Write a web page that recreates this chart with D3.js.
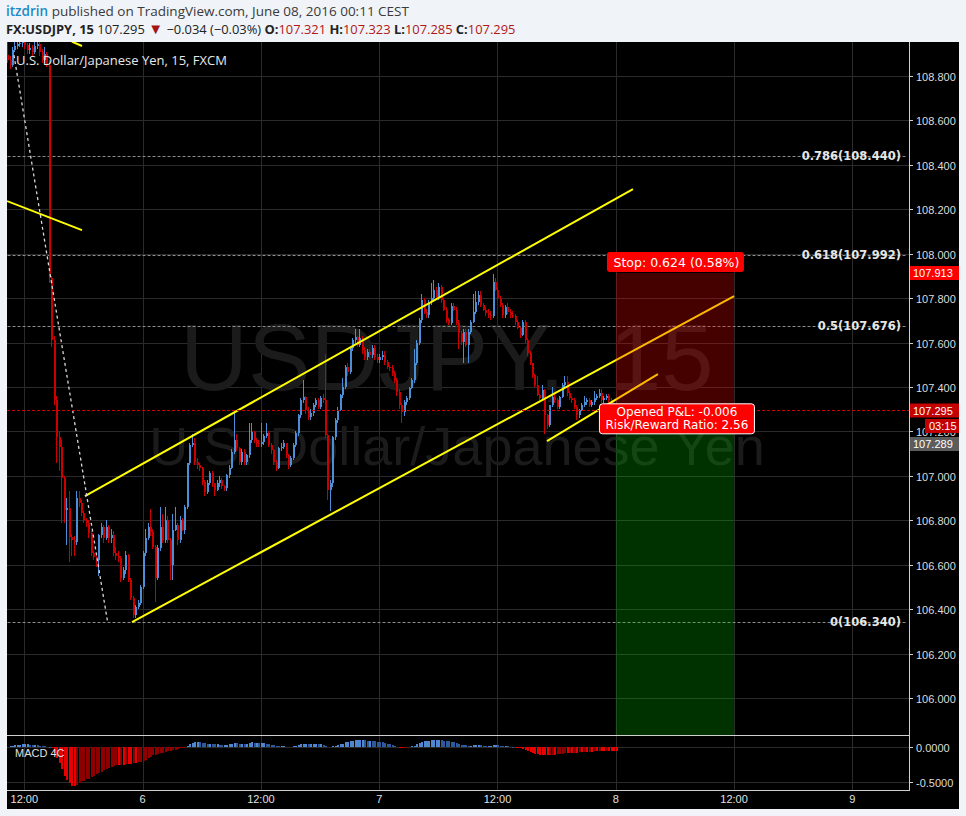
<!DOCTYPE html>
<html><head><meta charset="utf-8">
<script src="https://cdn.jsdelivr.net/npm/d3@7"></script>
<style>
html,body{margin:0;padding:0;background:#f0f3f7;}
svg{display:block;}
</style></head><body>
<svg id="c" width="966" height="816"></svg>
<script>
// ---------- DATA ----------
const symbolTitle = "U.S. Dollar/Japanese Yen, 15, FXCM";
const watermark1 = "USDJPY, 15";
const watermark2 = "U.S. Dollar/Japanese Yen";
const firstIndex = -7;          // bar index of first candle (0 = 12:00 label)
const firstOpen = 108.894;
const closes = [
108.872,108.849,108.917,108.935,108.944,108.948,108.953,108.939,108.917,108.926,108.908,108.935,108.944,108.908,108.872,108.899,108.849,
107.890,107.611,107.341,107.174,107.129,106.990,106.846,106.855,106.724,106.711,
106.702,106.900,106.877,106.832,106.801,106.787,106.742,106.652,106.634,106.621,
106.733,106.769,106.720,106.769,106.720,106.733,106.652,106.639,106.630,106.540,
106.576,106.643,106.531,106.450,106.373,106.409,106.427,106.499,106.652,106.720,
106.769,106.747,106.679,106.540,106.675,106.769,106.711,106.801,106.711,106.598,
106.756,106.778,106.711,106.801,106.756,106.859,107.057,107.138,107.147,107.062,
107.048,107.035,106.972,106.927,106.967,107.012,106.967,106.936,106.967,106.981,
106.954,106.945,107.003,107.035,107.107,107.161,107.125,107.062,107.107,107.062,
107.093,107.161,107.197,107.161,107.147,107.143,107.152,107.179,107.192,107.138,
107.116,107.062,107.035,107.125,107.129,107.147,107.093,107.048,107.080,107.138,
107.192,107.273,107.341,107.355,107.296,107.264,107.282,107.319,107.341,107.310,
107.350,107.341,107.183,106.936,106.967,107.174,107.251,107.296,107.364,107.400,
107.490,107.467,107.575,107.611,107.625,107.589,107.620,107.566,107.535,107.557,
107.544,107.575,107.535,107.521,107.535,107.544,107.512,107.490,107.485,107.463,
107.431,107.377,107.319,107.287,107.332,107.350,107.395,107.431,107.508,107.598,
107.701,107.791,107.737,107.724,107.782,107.800,107.836,107.800,107.850,107.791,
107.746,107.701,107.688,107.764,107.746,107.688,107.643,107.602,107.647,107.589,
107.647,107.692,107.737,107.782,107.814,107.769,107.746,107.733,107.724,107.719,
107.872,107.836,107.800,107.769,107.724,107.760,107.737,107.724,107.719,107.692,
107.665,107.634,107.692,107.611,107.553,107.508,107.454,107.409,107.364,107.350,
107.386,107.273,107.228,107.319,107.355,107.341,107.310,107.355,107.409,107.422,
107.373,107.350,107.341,107.310,107.273,107.296,107.319,107.332,107.341,107.319,
107.332,107.350,107.359,107.373,107.341,107.350,107.359,107.341,107.328,107.321,
107.295];
const highs = [
108.96,108.89,108.93,108.96,108.97,108.98,108.99,108.97,108.95,108.95,108.94,108.96,108.98,108.96,108.92,108.93,108.91,
108.87,107.90,107.63,107.36,107.20,107.16,107.00,106.90,106.93,106.74,
106.73,106.93,106.93,106.89,106.84,106.81,106.80,106.75,106.66,106.64,
106.74,106.79,106.78,106.80,106.78,106.76,106.75,106.68,106.66,106.64,
106.59,106.66,106.65,106.54,106.46,106.42,106.44,106.51,106.66,106.76,
106.79,106.85,106.76,106.69,106.69,106.86,106.83,106.86,106.82,106.72,
106.83,106.86,106.79,106.82,106.81,106.87,107.06,107.15,107.19,107.17,
107.08,107.06,107.04,106.98,106.98,107.02,107.02,106.97,106.98,107.00,
106.99,106.96,107.01,107.05,107.12,107.29,107.19,107.13,107.12,107.12,
107.10,107.24,107.24,107.20,107.17,107.16,107.24,107.19,107.24,107.20,
107.15,107.12,107.07,107.13,107.15,107.16,107.15,107.10,107.09,107.15,
107.20,107.28,107.35,107.43,107.36,107.31,107.30,107.33,107.35,107.35,
107.36,107.37,107.55,107.19,106.98,107.18,107.26,107.31,107.37,107.44,
107.50,107.51,107.58,107.62,107.66,107.63,107.66,107.63,107.58,107.57,
107.57,107.59,107.59,107.55,107.55,107.56,107.56,107.52,107.50,107.50,
107.47,107.44,107.39,107.33,107.34,107.36,107.40,107.44,107.57,107.61,
107.71,107.82,107.80,107.75,107.79,107.87,107.88,107.85,107.87,107.86,
107.80,107.76,107.71,107.78,107.78,107.76,107.70,107.65,107.66,107.66,
107.66,107.70,107.82,107.83,107.83,107.83,107.78,107.76,107.75,107.74,
107.91,107.89,107.85,107.81,107.78,107.77,107.78,107.75,107.74,107.73,
107.70,107.67,107.70,107.70,107.62,107.56,107.51,107.46,107.45,107.37,
107.41,107.39,107.28,107.32,107.40,107.37,107.35,107.36,107.42,107.45,
107.45,107.38,107.36,107.35,107.32,107.30,107.33,107.36,107.35,107.35,
107.34,107.38,107.37,107.39,107.39,107.36,107.37,107.37,107.35,107.34,
107.323];
const lows = [
108.86,108.83,108.84,108.91,108.92,108.93,108.93,108.92,108.90,108.90,108.89,108.90,108.92,108.89,108.86,108.86,108.84,
107.87,107.58,107.32,107.06,107.02,106.79,106.79,106.69,106.61,106.64,
106.64,106.69,106.86,106.82,106.79,106.77,106.72,106.64,106.62,106.59,
106.55,106.72,106.70,106.71,106.70,106.70,106.64,106.62,106.61,106.52,
106.53,106.56,106.52,106.44,106.36,106.36,106.40,106.42,106.49,106.64,
106.71,106.73,106.67,106.43,106.53,106.66,106.70,106.70,106.70,106.53,
106.53,106.75,106.69,106.70,106.75,106.74,106.85,107.05,107.13,107.05,
107.03,107.02,106.96,106.91,106.92,106.96,106.95,106.91,106.93,106.95,
106.94,106.93,106.93,106.99,107.03,107.10,107.11,107.05,107.05,107.05,
107.05,107.08,107.15,107.15,107.13,107.13,107.13,107.14,107.17,107.13,
107.10,107.05,107.02,107.03,107.11,107.12,107.08,107.03,107.04,107.07,
107.13,107.18,107.26,107.33,107.28,107.25,107.25,107.27,107.31,107.30,
107.30,107.33,107.17,106.89,106.84,106.95,107.16,107.24,107.29,107.35,
107.39,107.45,107.46,107.56,107.60,107.58,107.58,107.55,107.52,107.52,
107.53,107.53,107.52,107.51,107.51,107.52,107.50,107.48,107.47,107.45,
107.42,107.36,107.30,107.24,107.27,107.32,107.34,107.39,107.42,107.50,
107.59,107.69,107.73,107.71,107.71,107.77,107.79,107.79,107.79,107.78,
107.74,107.69,107.68,107.68,107.74,107.68,107.57,107.59,107.51,107.58,
107.51,107.64,107.69,107.73,107.77,107.76,107.74,107.72,107.71,107.70,
107.71,107.83,107.79,107.76,107.71,107.71,107.73,107.71,107.71,107.68,
107.66,107.62,107.63,107.60,107.54,107.50,107.44,107.40,107.36,107.34,
107.34,107.19,107.21,107.22,107.31,107.33,107.30,107.30,107.35,107.40,
107.36,107.34,107.33,107.30,107.25,107.26,107.29,107.31,107.32,107.31,
107.31,107.32,107.34,107.35,107.33,107.33,107.34,107.33,107.32,107.31,
107.285];
const macdHist = [
0.005,0.01,0.02,0.025,0.03,0.035,0.04,0.04,0.04,0.035,0.03,0.03,0.025,0.02,0.015,0.01,0.005,
0.0,-0.02,-0.08,-0.15,-0.23,-0.32,-0.41,-0.47,-0.52,-0.55,
-0.56,-0.54,-0.51,-0.49,-0.48,-0.46,-0.45,-0.43,-0.41,-0.39,
-0.37,-0.35,-0.33,-0.32,-0.30,-0.29,-0.27,-0.26,-0.26,-0.25,
-0.25,-0.24,-0.24,-0.24,-0.23,-0.23,-0.22,-0.21,-0.20,-0.18,
-0.16,-0.14,-0.12,-0.11,-0.10,-0.09,-0.08,-0.07,-0.06,-0.05,
-0.045,-0.04,-0.03,-0.02,-0.015,-0.005,0.01,0.04,0.06,0.07,
0.07,0.065,0.06,0.055,0.05,0.05,0.045,0.04,0.04,0.035,
0.03,0.03,0.035,0.04,0.05,0.06,0.055,0.05,0.05,0.045,
0.05,0.06,0.065,0.06,0.06,0.055,0.055,0.055,0.05,0.045,
0.035,0.025,0.015,0.01,0.01,0.01,0.005,0.005,0.005,0.01,
0.02,0.03,0.04,0.045,0.045,0.04,0.04,0.045,0.045,0.04,
0.04,0.035,0.02,0.005,0.003,0.01,0.02,0.03,0.04,0.05,
0.065,0.07,0.08,0.09,0.095,0.1,0.1,0.1,0.095,0.09,
0.09,0.085,0.08,0.075,0.07,0.065,0.06,0.05,0.04,0.03,
0.02,0.005,-0.01,-0.02,-0.015,-0.01,0.005,0.01,0.02,0.04,
0.06,0.075,0.08,0.085,0.09,0.095,0.1,0.1,0.1,0.095,
0.09,0.085,0.08,0.075,0.065,0.055,0.045,0.035,0.03,0.025,
0.02,0.02,0.025,0.03,0.03,0.025,0.02,0.015,0.015,0.015,
0.025,0.03,0.025,0.02,0.015,0.015,0.01,0.005,0.0,-0.005,
-0.01,-0.02,-0.03,-0.04,-0.055,-0.07,-0.085,-0.095,-0.105,-0.11,
-0.115,-0.12,-0.12,-0.115,-0.11,-0.11,-0.105,-0.1,-0.095,-0.09,
-0.09,-0.085,-0.085,-0.08,-0.08,-0.075,-0.075,-0.07,-0.07,-0.065,
-0.065,-0.06,-0.06,-0.055,-0.055,-0.055,-0.05,-0.05,-0.05,-0.05,
-0.05];
const timeTickIndex = [0,48,96,144,192,240,288,336];
const timeTickLabels = ["12:00","6","12:00","7","12:00","8","12:00","9"];
const priceTicks = [106.0,106.2,106.4,106.6,106.8,107.0,107.2,107.4,107.6,107.8,108.0,108.2,108.4,108.6,108.8];
const macdTicks = [0,-0.5];
const fibRatios = ["0.786","0.618","0.5","0"];
const fibPrices = [108.440,107.992,107.676,106.340];
const fibStartIndex = -6.8;
// drawings: [index1, price1, index2, price2]
const yellowLines = [
  [24.6,106.909,246.97,108.291],   // channel upper
  [43.7,106.342,288.0,107.809],    // channel lower
  [212.1,107.156,257.1,107.458],   // short channel
  [-7.0,108.237,23.4,108.106],     // top-left segment
  [19.3,108.955,23.4,108.935]      // top clipped segment
];
const dottedLine = [-4.2,108.894,33.8,106.342];
const position = {startIndex:240, endIndex:288, stop:107.913, entry:107.295, target:105.698};
const stopLabel = "Stop: 0.624 (0.58%)";
const pnlLines = ["Opened P&L: -0.006","Risk/Reward Ratio: 2.56"];
const lastPrice = 107.295, bidPrice = 107.289, stopPrice = 107.913;
const countdown = "03:15";

// ---------- LAYOUT ----------
const svg = d3.select('#c');
const paneL=7, paneR=909, paneT=42, paneB=735, macdB=790, chartB=809, axisR=959;
const x = d3.scaleLinear().domain([0,336]).range([24.3,852.4]);
const y = d3.scaleLinear().domain([106,108.8]).range([698,76]);
const ym = d3.scaleLinear().domain([-0.5,0]).range([782,747]);
const BLUE="#4a8fd8", RED="#cc0000";

// header
const hdr = svg.append('text').attr('x',6).attr('y',16).style('font-family','"Open Sans",sans-serif').style('font-size','13.5px');
hdr.append('tspan').attr('fill','#1f8ac6').attr('font-weight','600').text('itzdrin');
hdr.append('tspan').attr('fill','#3a3a3a').text(' published on TradingView.com, June 08, 2016 00:11 CEST');
const h2 = svg.append('text').attr('x',6).attr('y',34).style('font-family','"Open Sans",sans-serif').style('font-size','12.9px').attr('fill','#222');
h2.append('tspan').attr('font-weight','700').text('FX:USDJPY, 15');
h2.append('tspan').text(' 107.295 ');
h2.append('tspan').attr('fill','#a31515').style('font-size','15px').text('▼');
h2.append('tspan').text(' −0.034 (−0.03%) ');
[["O:","107.321"],["H:","107.323"],["L:","107.285"],["C:","107.295"]].forEach((p,i)=>{
  h2.append('tspan').attr('font-weight','700').text((i?' ':'')+p[0]);
  h2.append('tspan').attr('fill','#b01818').text(p[1]);
});

// black chart area
svg.append('rect').attr('x',paneL).attr('y',paneT).attr('width',axisR-paneL).attr('height',chartB-paneT).attr('fill','#000');

const defs = svg.append('defs');
defs.append('clipPath').attr('id','mainClip').append('rect').attr('x',paneL).attr('y',paneT).attr('width',paneR-paneL).attr('height',paneB-paneT);
defs.append('clipPath').attr('id','macdClip').append('rect').attr('x',paneL).attr('y',paneB+1).attr('width',paneR-paneL).attr('height',macdB-paneB-1);

// grid
const grid = svg.append('g').attr('shape-rendering','crispEdges');
grid.selectAll('.vg').data(timeTickIndex).join('line')
  .attr('x1',d=>Math.round(x(d))+0.5).attr('x2',d=>Math.round(x(d))+0.5)
  .attr('y1',paneT).attr('y2',macdB).attr('stroke','#2b2b2b');
grid.selectAll('.hg').data(priceTicks).join('line')
  .attr('x1',paneL).attr('x2',paneR).attr('y1',d=>Math.round(y(d))+0.5).attr('y2',d=>Math.round(y(d))+0.5).attr('stroke','#2b2b2b');
grid.selectAll('.mg').data(macdTicks).join('line')
  .attr('x1',paneL).attr('x2',paneR).attr('y1',d=>Math.round(ym(d))+0.5).attr('y2',d=>Math.round(ym(d))+0.5).attr('stroke','#2b2b2b');

const main = svg.append('g').attr('clip-path','url(#mainClip)');

// watermark
main.append('text').attr('x',180).attr('y',390)
  .style('font-family','"Liberation Sans",Arial,sans-serif').style('font-size','94px').style('word-spacing','18px')
  .attr('fill','#1b1b1b').text(watermark1);
main.append('text').attr('x',457).attr('y',465).attr('text-anchor','middle')
  .style('font-family','"Liberation Sans",Arial,sans-serif').style('font-size','54px').attr('fill','#1b1b1b').text(watermark2);

// fib levels
const fibG = main.append('g');
fibPrices.forEach((p,i)=>{
  fibG.append('line').attr('x1',x(fibStartIndex)).attr('x2',paneR-2).attr('y1',Math.round(y(p))+0.5).attr('y2',Math.round(y(p))+0.5)
    .attr('stroke','#8c8c8c').attr('stroke-dasharray','3,2');
});

// candles
const bars = closes.map((c,k)=>({i:firstIndex+k, o:k?closes[k-1]:firstOpen, h:highs[k], l:lows[k], c}));
const cg = main.append('g').attr('shape-rendering','crispEdges');
bars.forEach(b=>{
  const col = b.c>=b.o ? BLUE : RED;
  const xc = Math.round(x(b.i));
  cg.append('rect').attr('x',xc).attr('width',1).attr('y',y(b.h)).attr('height',Math.max(1,y(b.l)-y(b.h))).attr('fill',col);
  const top = y(Math.max(b.o,b.c)), bot = y(Math.min(b.o,b.c));
  cg.append('rect').attr('x',xc-0.5).attr('width',2).attr('y',top).attr('height',Math.max(1,bot-top)).attr('fill',col);
});

// trend lines
main.selectAll('.yl').data(yellowLines).join('line')
  .attr('x1',d=>x(d[0])).attr('y1',d=>y(d[1])).attr('x2',d=>x(d[2])).attr('y2',d=>y(d[3]))
  .attr('stroke','#ffff00').attr('stroke-width',2);
main.append('line').attr('x1',x(dottedLine[0])).attr('y1',y(dottedLine[1])).attr('x2',x(dottedLine[2])).attr('y2',y(dottedLine[3]))
  .attr('stroke','#d8d8d8').attr('stroke-width',1.3).attr('stroke-dasharray','3,3');

// last price line
main.append('line').attr('x1',paneL).attr('x2',paneR).attr('y1',Math.round(y(lastPrice))+0.5).attr('y2',Math.round(y(lastPrice))+0.5)
  .attr('stroke','#d00000').attr('stroke-dasharray','3,2');

// position boxes (semi-transparent over drawings)
const px1 = x(position.startIndex), px2 = x(position.endIndex);
main.append('rect').attr('x',px1).attr('width',px2-px1).attr('y',y(position.stop)).attr('height',y(position.entry)-y(position.stop))
  .attr('fill','rgba(255,0,0,0.27)');
main.append('rect').attr('x',px1).attr('width',px2-px1).attr('y',y(position.entry)).attr('height',y(position.target)-y(position.entry))
  .attr('fill','rgba(0,200,0,0.25)');

// fib labels
fibPrices.forEach((p,i)=>{
  const t = fibRatios[i]+'('+p.toFixed(3)+')';
  main.append('text').attr('x',paneR-8).attr('y',y(p)+4).attr('text-anchor','end')
    .style('font-family','"DejaVu Sans",sans-serif').style('font-size','11.5px').attr('font-weight','bold').attr('fill','#e6e6e6').text(t);
});

// symbol title
main.append('text').attr('x',16).attr('y',65).style('font-family','"Open Sans",sans-serif').style('font-size','13px')
  .attr('fill','#e8e8e8').text(symbolTitle);

// stop label
const cx = (px1+px2)/2;
main.append('rect').attr('x',cx-68).attr('y',y(position.stop)-21).attr('width',137).attr('height',20).attr('rx',3).attr('fill','#ff0000');
main.append('text').attr('x',cx+1.5).attr('y',y(position.stop)-6.5).attr('text-anchor','middle')
  .style('font-family','"DejaVu Sans",sans-serif').style('font-size','12.5px').attr('fill','#fff').text(stopLabel);
// pnl label
main.append('rect').attr('x',cx-75.5).attr('y',y(position.entry)-6.5).attr('width',155).attr('height',30).attr('rx',3)
  .attr('fill','#ff0000').attr('stroke','#fff').attr('stroke-width',1);
pnlLines.forEach((t,k)=>{
  main.append('text').attr('x',cx+2).attr('y',y(position.entry)+5.5+k*13).attr('text-anchor','middle')
    .style('font-family','"DejaVu Sans",sans-serif').style('font-size','12px').attr('fill','#fff').text(t);
});

// MACD
const mg = svg.append('g').attr('clip-path','url(#macdClip)').attr('shape-rendering','crispEdges');
macdHist.forEach((v,k)=>{
  const prev = k? macdHist[k-1] : v;
  let col;
  if(v>=0) col = v>=prev ? '#4f86d0' : '#2d5a9c';
  else col = v<=prev ? '#e80000' : '#8e0000';
  const xc = Math.round(x(firstIndex+k));
  const y0 = ym(0), y1 = ym(v);
  mg.append('rect').attr('x',xc-0.5).attr('width',2.5).attr('y',Math.min(y0,y1)).attr('height',Math.max(0.5,Math.abs(y1-y0))).attr('fill',col);
});
svg.append('text').attr('x',15).attr('y',757).style('font-family','"Liberation Sans",Arial,sans-serif').style('font-size','11px').attr('fill','#e0e0e0').text('MACD 4C');

// pane separators and axis line
const sep = svg.append('g').attr('shape-rendering','crispEdges');
sep.append('line').attr('x1',paneL).attr('x2',paneR+1).attr('y1',paneB+0.5).attr('y2',paneB+0.5).attr('stroke','#d0d0d0');
sep.append('line').attr('x1',paneL).attr('x2',paneR+1).attr('y1',macdB+0.5).attr('y2',macdB+0.5).attr('stroke','#d0d0d0');
sep.append('line').attr('x1',paneR+0.5).attr('x2',paneR+0.5).attr('y1',paneT).attr('y2',macdB).attr('stroke','#d0d0d0');

// price axis
const axG = svg.append('g').style('font-family','"Liberation Sans",Arial,sans-serif').style('font-size','11px');
priceTicks.forEach(p=>{
  const yy = Math.round(y(p))+0.5;
  axG.append('line').attr('x1',paneR).attr('x2',paneR+4).attr('y1',yy).attr('y2',yy).attr('stroke','#d0d0d0').attr('shape-rendering','crispEdges');
  axG.append('text').attr('x',916).attr('y',yy+4).attr('fill','#dcdcdc').text(p.toFixed(3));
});
macdTicks.forEach(v=>{
  const yy = Math.round(ym(v))+0.5;
  axG.append('line').attr('x1',paneR).attr('x2',paneR+4).attr('y1',yy).attr('y2',yy).attr('stroke','#d0d0d0').attr('shape-rendering','crispEdges');
  axG.append('text').attr('x',916).attr('y',yy+4).attr('fill','#dcdcdc').text(v.toFixed(4));
});
function axisLabel(yc, txt, bg, x0){
  x0 = x0||paneR+1;
  axG.append('rect').attr('x',x0).attr('y',yc-7).attr('width',axisR-x0).attr('height',14).attr('fill',bg);
  axG.append('text').attr('x',x0===paneR+1?913:x0+4).attr('y',yc+4).attr('fill','#fff').text(txt);
}
axisLabel(Math.round(y(stopPrice)), stopPrice.toFixed(3), '#ff0000');
axisLabel(Math.round(y(lastPrice))+0.5, lastPrice.toFixed(3), '#c40000');
axisLabel(Math.round(y(lastPrice))+16, countdown, '#c40000', 925);
axisLabel(Math.round(y(bidPrice))+32, bidPrice.toFixed(3), '#5c5c5c');

// time axis
timeTickIndex.forEach((t,k)=>{
  axG.append('text').attr('x',x(t)).attr('y',803).attr('text-anchor','middle').attr('fill','#e0e0e0').text(timeTickLabels[k]);
});
</script>
</body></html>
